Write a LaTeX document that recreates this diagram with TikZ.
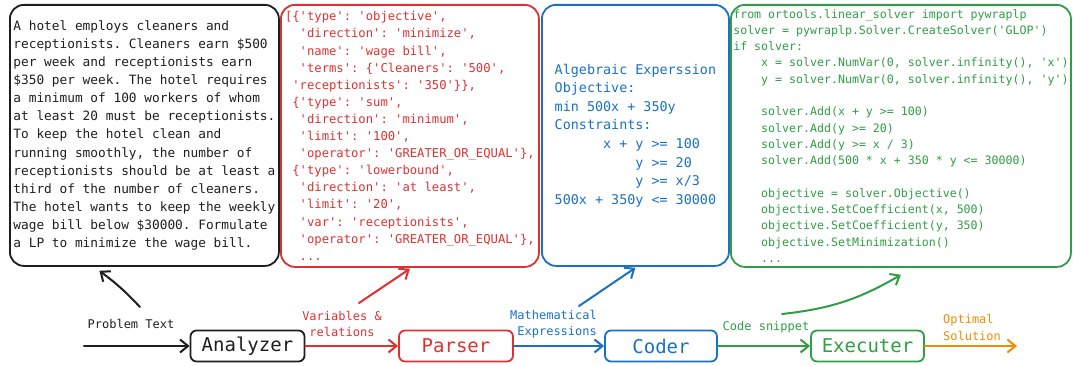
\documentclass[tikz,border=0pt]{standalone}
\usepackage{fontspec}
\setmonofont{DejaVu Sans Mono}
\usepackage{xcolor}
\usepackage{tikz}
\usetikzlibrary{arrows.meta}

\definecolor{exblack}{HTML}{1E1E1E}
\definecolor{exred}{HTML}{E03131}
\definecolor{exblue}{HTML}{1971C2}
\definecolor{exgreen}{HTML}{2F9E44}
\definecolor{exorange}{HTML}{F08C00}

\begin{document}
\frenchspacing
\begin{tikzpicture}[x=1pt,y=-1pt,
  panel/.style={draw, line width=1.8pt, rounded corners=14pt, anchor=north west, align=left, inner xsep=2pt, inner ysep=0pt},
  stage/.style={draw, line width=1.8pt, rounded corners=6pt, minimum height=31pt, inner sep=0pt, font=\ttfamily\fontsize{19}{22}\selectfont},
  flow/.style={line width=2pt, line cap=round, -{Straight Barb[length=8pt,width=13pt]}},
  tag/.style={font=\ttfamily\fontsize{12}{16}\selectfont, inner sep=0pt}
]
\useasboundingbox (0,0) rectangle (1073,366);

% Draw the problem text
\node[panel, exblack, minimum width=269, minimum height=261, font=\ttfamily\fontsize{12.8}{18.1}\selectfont] (problem) at (9,4) {%
A hotel employs cleaners and\\
receptionists. Cleaners earn \$500\\
per week and receptionists earn\\
\$350 per week. The hotel requires\\
a minimum of 100 workers of whom\\
at least 20 must be receptionists.\\
To keep the hotel clean and\\
running smoothly, the number of\\
receptionists should be at least a\\
third of the number of cleaners.\\
The hotel wants to keep the weekly\\
wage bill below \$30000. Formulate\\
a LP to minimize the wage bill.};

% Draw the relations
\node[panel, exred, minimum width=258, minimum height=262, font=\ttfamily\fontsize{12.2}{17.1}\selectfont] (relations) at (280,4) {%
[\{'type': 'objective',\\
~~'direction': 'minimize',\\
~~'name': 'wage bill',\\
~~'terms': \{'Cleaners': '500',\\
~'receptionists': '350'\}\},\\
~\{'type': 'sum',\\
~~'direction': 'minimum',\\
~~'limit': '100',\\
~~'operator': 'GREATER\_OR\_EQUAL'\},\\
~\{'type': 'lowerbound',\\
~~'direction': 'at least',\\
~~'limit': '20',\\
~~'var': 'receptionists',\\
~~'operator': 'GREATER\_OR\_EQUAL'\},\\
~~...};

% Draw the expression
\node[panel, exblue, minimum width=187, minimum height=261, font=\ttfamily\fontsize{13.4}{18.6}\selectfont] (expression) at (541,4) {%
Algebraic Experssion\\
Objective:\\
min 500x + 350y\\
Constraints:\\
~~~~~~x + y >= 100\\
~~~~~~~~~~y >= 20\\
~~~~~~~~~~y >= x/3\\
500x + 350y <= 30000};

% Draw the code snippet
\node[panel, exgreen, minimum width=340, minimum height=262, font=\ttfamily\fontsize{11.6}{16.3}\selectfont] (snippet) at (730,4) {%
from ortools.linear\_solver import pywraplp\\
solver = pywraplp.Solver.CreateSolver('GLOP')\\
if solver:\\
~~~~x = solver.NumVar(0, solver.infinity(), 'x')\\
~~~~y = solver.NumVar(0, solver.infinity(), 'y')\\
~\\
~~~~solver.Add(x + y >= 100)\\
~~~~solver.Add(y >= 20)\\
~~~~solver.Add(y >= x / 3)\\
~~~~solver.Add(500 * x + 350 * y <= 30000)\\
~\\
~~~~objective = solver.Objective()\\
~~~~objective.SetCoefficient(x, 500)\\
~~~~objective.SetCoefficient(y, 350)\\
~~~~objective.SetMinimization()\\
~~~~...};

% Draw the stages
\node[stage, exblack, minimum width=114] (analyzer) at (247.5,346) {Analyzer};
\node[stage, exred, minimum width=114] (parser) at (456,346) {Parser};
\node[stage, exblue, minimum width=112] (coder) at (661,346) {Coder};
\node[stage, exgreen, minimum width=113] (executer) at (867.5,346) {Executer};

% Add labels
\node[tag, exblack] (lblproblem) at (131,324) {Problem Text};
\node[tag, exred, align=center] (lblvars) at (342,324) {Variables \&\\relations};
\node[tag, exblue, align=right] (lblmath) at (553.5,324) {Mathematical\\Expressions};
\node[tag, exgreen] (lblcode) at (766,327) {Code snippet};
\node[tag, exorange, align=left, font=\ttfamily\fontsize{12}{17}\selectfont] (lblopt) at (972,327.5) {Optimal\\Solution};

% Free ends
\coordinate (input) at (84,346);
\coordinate (output) at (1017,346);
\coordinate (tailproblem) at (140,307);
\coordinate (tailvars) at (359,303);
\coordinate (tailmath) at (579,306);
\coordinate (tailcode) at (782,314);

% Draw the pipeline
\draw[flow, exblack] (input) -- (analyzer);
\draw[flow, exred] (analyzer) -- (parser);
\draw[flow, exblue] (parser) -- (coder);
\draw[flow, exgreen] (coder) -- (executer);
\draw[flow, exorange] (executer) -- (output);

% Draw the outputs
\draw[flow, exblack] (tailproblem) to[bend right=5] ([xshift=-45pt,yshift=-4pt]problem.south);
\draw[flow, exred] (tailvars) -- ([yshift=-1pt]relations.south);
\draw[flow, exblue] (tailmath) -- ([yshift=-1pt]expression.south);
\draw[flow, exgreen] (tailcode) to[bend right=12] ([yshift=-7pt]snippet.south);
\end{tikzpicture}
\end{document}
